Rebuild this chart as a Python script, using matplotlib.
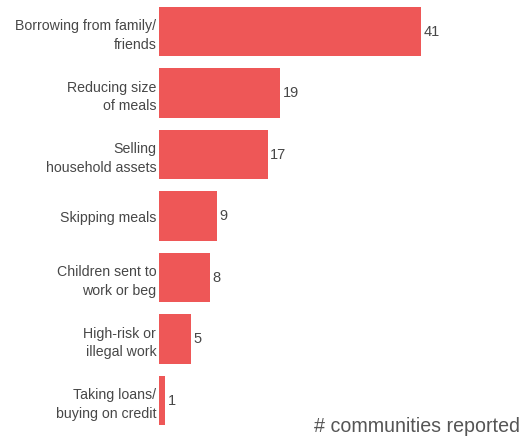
import matplotlib
matplotlib.use("Agg")
import matplotlib.pyplot as plt

# Coping strategies and number of communities reporting them
strategies = [
    "Borrowing from family/\nfriends",
    "Reducing size\nof meals",
    "Selling\nhousehold assets",
    "Skipping meals",
    "Children sent to\nwork or beg",
    "High-risk or\nillegal work",
    "Taking loans/\nbuying on credit",
]
counts = [41, 19, 17, 9, 8, 5, 1]

bar_color = "#EE5757"
text_color = "#474747"

plt.rcParams["font.family"] = ["Liberation Sans", "DejaVu Sans"]

fig = plt.figure(figsize=(5.21, 4.36), dpi=100)
W, H = 521, 436
ax = fig.add_axes([159 / W, 4.75 / H, 362 / W, 430.5 / H])

y = range(len(strategies))
ax.barh(y, counts, height=0.8, color=bar_color)

for yi, c in zip(y, counts):
    ax.text(c + 0.4, yi, str(c), va="center", ha="left",
            fontsize=10.5, color=text_color)

ax.set_xlim(0, 362 / 6.39)
ax.set_ylim(6.5, -0.5)
ax.set_yticks(list(y))
ax.set_yticklabels(strategies, fontsize=10.2, color=text_color, linespacing=1.42)
ax.tick_params(axis="y", length=0, pad=2)
ax.set_xticks([])
for s in ax.spines.values():
    s.set_visible(False)

fig.text(520 / W, 0, "# communities reported", ha="right", va="bottom",
         fontsize=14.1, color="#555555")

fig.savefig("out.png", dpi=100)
